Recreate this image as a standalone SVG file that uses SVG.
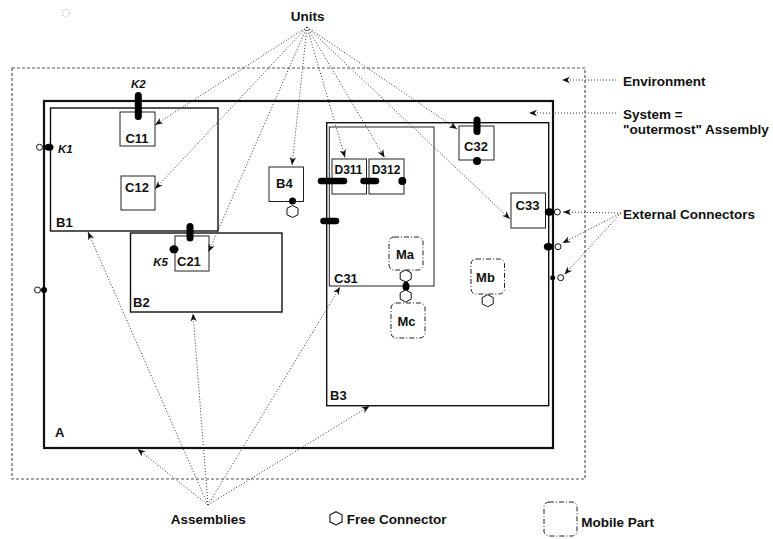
<svg xmlns="http://www.w3.org/2000/svg" width="773" height="539" viewBox="0 0 773 539">
<style>
text{font-family:"Liberation Sans",Arial,sans-serif;font-weight:bold;fill:#111}
.n{font-size:13px}
.d{font-size:12px}
.k{font-size:11.5px;font-style:italic}
.lab{font-size:13.5px}
.unit{fill:#fff;stroke:#222;stroke-width:1}
.asm{fill:none;stroke:#111;stroke-width:1.4}
.mob{fill:#fff;stroke:#222;stroke-width:1;stroke-dasharray:5 2 1 2}
.cap{stroke:#000;stroke-width:7;stroke-linecap:round}
.dot{fill:#000}
.open{fill:#fff;stroke:#111;stroke-width:1}
.hex{fill:#fff;stroke:#111;stroke-width:1}
.lead{fill:none;stroke:#333;stroke-width:1;stroke-dasharray:1 2}
</style>
<defs>
<marker id="ah" viewBox="0 0 10 10" refX="10" refY="5" markerWidth="8" markerHeight="8" orient="auto" markerUnits="userSpaceOnUse"><path d="M0,1 L10,5 L0,9 L3,5 z" fill="#111"/></marker>
<polygon id="hx" points="0,-6 5.5,-3.2 5.5,3.2 0,6 -5.5,3.2 -5.5,-3.2"/>
</defs>
<rect width="773" height="539" fill="#fff"/>
<circle cx="66" cy="13" r="3.5" fill="none" stroke="#aaa" stroke-width="1" stroke-dasharray="1 1.5"/>

<g id="environment">
<rect x="12" y="68" width="573" height="411" fill="none" stroke="#555" stroke-width="1.2" stroke-dasharray="3 2"/>
</g>

<g id="A">
<rect x="44" y="101" width="509" height="347" fill="none" stroke="#111" stroke-width="2.2"/>
<text class="n" x="55" y="437">A</text>
</g>

<g id="B1">
<rect class="asm" x="50.5" y="108" width="167.5" height="123"/>
<text class="n" x="56" y="226.5">B1</text>
</g>
<g id="C11">
<rect class="unit" x="120" y="112" width="35" height="34"/>
<text class="n" x="137" y="143" text-anchor="middle">C11</text>
</g>
<g id="C12">
<rect class="unit" x="121" y="176" width="34" height="34"/>
<text class="n" x="137" y="192" text-anchor="middle">C12</text>
</g>

<g id="B2">
<rect class="asm" x="130.5" y="233" width="151.5" height="79"/>
<text class="n" x="133" y="306.5">B2</text>
</g>
<g id="C21">
<rect class="unit" x="175" y="236" width="34" height="35"/>
<text class="n" x="177" y="266">C21</text>
</g>

<g id="B4">
<rect class="unit" x="269" y="167" width="34.5" height="34.5"/>
<text class="n" x="276" y="187.5">B4</text>
</g>

<g id="B3">
<rect class="asm" x="326.7" y="122.7" width="222" height="283"/>
<text class="n" x="330" y="400">B3</text>
</g>
<g id="C31">
<rect class="unit" fill="none" x="329.3" y="127" width="104.7" height="159"/>
<text class="n" x="334" y="282.5">C31</text>
</g>
<g id="D311">
<rect class="unit" x="332" y="159" width="34.5" height="35"/>
<text class="d" x="348.5" y="174" text-anchor="middle">D311</text>
</g>
<g id="D312">
<rect class="unit" x="369" y="159" width="35" height="35"/>
<text class="d" x="386" y="173.5" text-anchor="middle">D312</text>
</g>
<g id="C32">
<rect class="unit" x="459" y="126" width="35" height="34"/>
<text class="n" x="476" y="150.5" text-anchor="middle">C32</text>
</g>
<g id="C33">
<rect class="unit" x="511" y="193" width="34.5" height="35"/>
<text class="n" x="527.5" y="210" text-anchor="middle">C33</text>
</g>

<g id="Ma">
<rect class="mob" x="389" y="237" width="34" height="33" rx="5"/>
<text class="n" x="405" y="259" text-anchor="middle">Ma</text>
</g>
<g id="Mb">
<rect class="mob" x="471" y="259" width="33.5" height="35" rx="5"/>
<text class="n" x="485.5" y="282" text-anchor="middle">Mb</text>
</g>
<g id="Mc">
<rect class="mob" x="391" y="303" width="34" height="35" rx="5"/>
<text class="n" x="406.5" y="325.5" text-anchor="middle">Mc</text>
</g>

<g id="ports">
<line class="cap" x1="138.3" y1="95.5" x2="138.3" y2="116.5"/>
<text class="k" x="138.3" y="87.5" text-anchor="middle">K2</text>
<circle class="open" cx="39.5" cy="147.3" r="3"/>
<ellipse class="dot" cx="49" cy="147.3" rx="4.5" ry="3.5"/>
<text class="k" x="58" y="152.5">K1</text>
<circle class="open" cx="37.5" cy="290" r="3"/>
<circle class="dot" cx="44" cy="290" r="3"/>
<line class="cap" x1="190" y1="226.5" x2="190" y2="238"/>
<ellipse class="dot" cx="174" cy="249.3" rx="4.5" ry="4"/>
<text class="k" x="153.3" y="266">K5</text>
<circle class="dot" cx="292.5" cy="201" r="3.5"/>
<use href="#hx" class="hex" x="292.5" y="211.5"/>
<line class="cap" x1="321" y1="181" x2="344" y2="181" style="stroke-width:6.5"/>
<line class="cap" x1="363.5" y1="181" x2="376" y2="181" style="stroke-width:6.5"/>
<circle class="dot" cx="402.3" cy="181" r="4"/>
<line class="cap" x1="323.5" y1="221" x2="336" y2="221" style="stroke-width:6.5"/>
<line class="cap" x1="477" y1="120" x2="477" y2="131.5"/>
<circle class="dot" cx="477" cy="161" r="4"/>
<use href="#hx" class="hex" x="405.7" y="276"/>
<ellipse class="dot" cx="406" cy="286.5" rx="3.5" ry="5"/>
<use href="#hx" class="hex" x="405.7" y="296"/>
<use href="#hx" class="hex" x="487.7" y="300.7"/>
<ellipse class="dot" cx="549.3" cy="212" rx="4.5" ry="3.7"/>
<circle class="open" cx="557.3" cy="212" r="3"/>
<ellipse class="dot" cx="548.3" cy="246.7" rx="4.5" ry="3.7"/>
<circle class="open" cx="558" cy="246.7" r="3"/>
<circle class="dot" cx="552.7" cy="277.7" r="2.5"/>
<circle class="open" cx="560.7" cy="277.7" r="3"/>
</g>

<g id="connectors">
<line class="lead" x1="307" y1="27" x2="155" y2="125" marker-end="url(#ah)"/>
<line class="lead" x1="307" y1="27" x2="155" y2="189" marker-end="url(#ah)"/>
<line class="lead" x1="307" y1="27" x2="208.5" y2="252" marker-end="url(#ah)"/>
<line class="lead" x1="307" y1="27" x2="292" y2="165" marker-end="url(#ah)"/>
<line class="lead" x1="307" y1="27" x2="345" y2="157.5" marker-end="url(#ah)"/>
<line class="lead" x1="307" y1="27" x2="384.5" y2="157.5" marker-end="url(#ah)"/>
<line class="lead" x1="307" y1="27" x2="457" y2="129" marker-end="url(#ah)"/>
<line class="lead" x1="307" y1="27" x2="510" y2="219" marker-end="url(#ah)"/>
<line class="lead" x1="208" y1="505" x2="137.5" y2="449" marker-end="url(#ah)"/>
<line class="lead" x1="208" y1="505" x2="88" y2="232" marker-end="url(#ah)"/>
<line class="lead" x1="208" y1="505" x2="193" y2="313.5" marker-end="url(#ah)"/>
<line class="lead" x1="208" y1="505" x2="340" y2="287" marker-end="url(#ah)"/>
<line class="lead" x1="208" y1="505" x2="369.5" y2="406" marker-end="url(#ah)"/>
<line class="lead" x1="616" y1="80" x2="562" y2="80" marker-end="url(#ah)"/>
<line class="lead" x1="616" y1="113" x2="529" y2="113" marker-end="url(#ah)"/>
<line class="lead" x1="621" y1="213" x2="563" y2="212" marker-end="url(#ah)"/>
<line class="lead" x1="621" y1="213" x2="562.5" y2="243" marker-end="url(#ah)"/>
<line class="lead" x1="621" y1="213" x2="564.5" y2="274.5" marker-end="url(#ah)"/>
</g>

<g id="labels">
<text class="lab" x="290.7" y="21">Units</text>
<text class="lab" x="623" y="86">Environment</text>
<text class="lab" x="623" y="118.5">System =</text>
<text class="lab" x="623" y="134">"outermost" Assembly</text>
<text class="lab" x="623" y="219">External Connectors</text>
<text class="lab" x="170.7" y="524">Assemblies</text>
</g>

<g id="legend">
<use href="#hx" class="hex" x="336" y="518.3" transform="translate(336 518.3) scale(1.1) translate(-336 -518.3)"/>
<text class="lab" x="346.7" y="524">Free Connector</text>
<rect class="mob" x="544" y="502" width="33" height="34" rx="5"/>
<text class="lab" x="581.3" y="526.5">Mobile Part</text>
</g>
</svg>
